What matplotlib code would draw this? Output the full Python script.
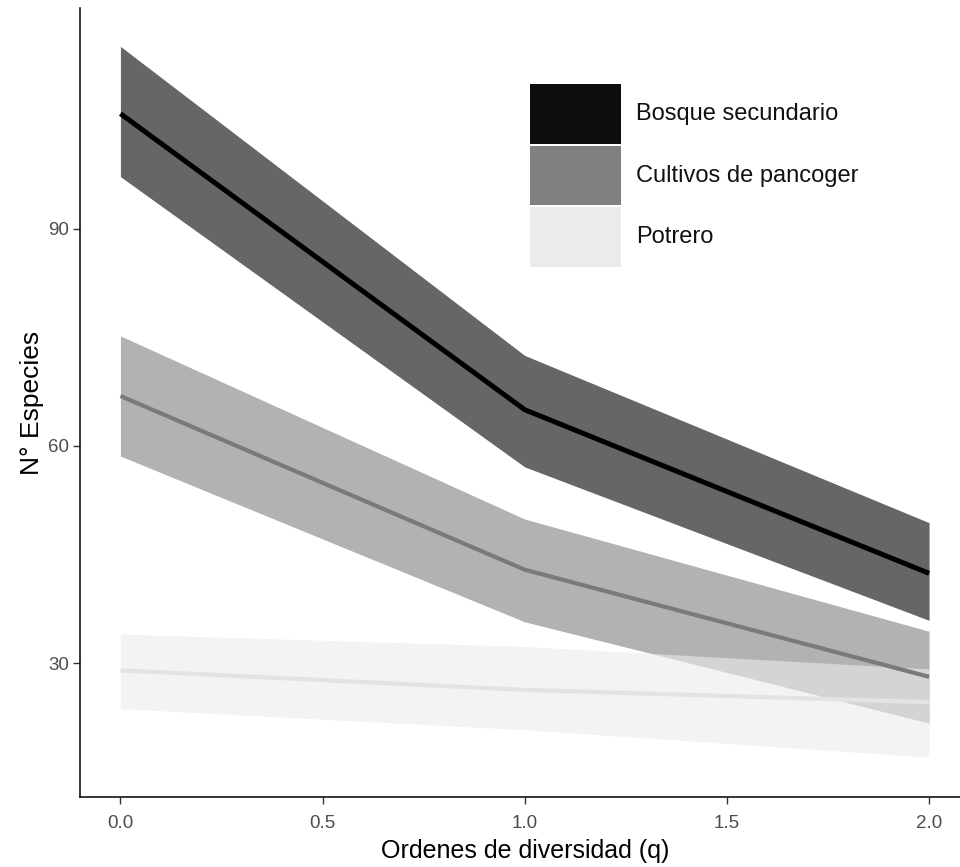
import matplotlib
matplotlib.use("Agg")
import matplotlib.pyplot as plt
from matplotlib.patches import Rectangle

plt.rcParams['font.family'] = ['Liberation Sans', 'DejaVu Sans']

# ordenes de diversidad q
q = [0.0, 1.0, 2.0]

habitats = ['Bosque secundario', 'Cultivos de pancoger', 'Potrero']

bosque_est = [105.9, 65.0, 42.4]
bosque_lo = [97.2, 57.1, 35.9]
bosque_hi = [115.2, 72.5, 49.4]

cultivos_est = [66.9, 42.9, 28.1]
cultivos_lo = [58.6, 35.7, 21.7]
cultivos_hi = [75.2, 49.9, 34.4]

potrero_est = [29.0, 26.3, 24.6]
potrero_lo = [23.7, 20.8, 17.0]
potrero_hi = [34.0, 32.3, 29.2]

fill_cols = ['#000000', '#808080', '#ebebeb']
line_cols = ['#000000', '#7a7a7a', '#e3e3e3']
line_w = [3.6, 3.0, 3.0]

fig = plt.figure(figsize=(9.6, 8.67), dpi=100)
ax = fig.add_axes([80/960, 70/867, 889.5/960, 789/867])

est = [bosque_est, cultivos_est, potrero_est]
lo = [bosque_lo, cultivos_lo, potrero_lo]
hi = [bosque_hi, cultivos_hi, potrero_hi]

# ribbons first, then lines (like ggplot layers)
for i in range(3):
    ax.fill_between(q, lo[i], hi[i], color=fill_cols[i], alpha=0.6, linewidth=0)
for i in range(3):
    ax.plot(q, est[i], color=line_cols[i], lw=line_w[i], solid_capstyle='butt')

ax.set_xlim(-0.1, 2.1)
ax.set_ylim(11.5, 120.5)
ax.set_xticks([0.0, 0.5, 1.0, 1.5, 2.0])
ax.set_xticklabels(['0.0', '0.5', '1.0', '1.5', '2.0'])
ax.set_yticks([30, 60, 90])
ax.tick_params(colors='#333333', labelcolor='#4d4d4d', labelsize=13.5, length=5, width=1)
ax.tick_params(axis='x', pad=8)
ax.tick_params(axis='y', pad=3)
ax.spines['top'].set_visible(False)
ax.spines['right'].set_visible(False)
for s in ['left', 'bottom']:
    ax.spines[s].set_linewidth(1.1)
    ax.spines[s].set_color('#000000')

ax.set_xlabel('Ordenes de diversidad (q)', fontsize=18, labelpad=5)
ax.set_ylabel('N° Especies', fontsize=19, labelpad=3)

# legend drawn by hand (pixel boxes)
W, H = 960, 867
top = 83
row_h = 61.7
for i, name in enumerate(habitats):
    y0 = top + i * row_h
    fig.patches.append(Rectangle((530/W, 1 - (y0 + row_h - 1)/H), 91/W, (row_h - 2)/H,
                                 transform=fig.transFigure, color=fill_cols[i] if i else '#0d0d0d',
                                 linewidth=0))
    fig.text(636/W, 1 - (y0 + row_h/2)/H, name, fontsize=17, va='center', ha='left', color='#111111')

fig.savefig('out.png', dpi=100)
